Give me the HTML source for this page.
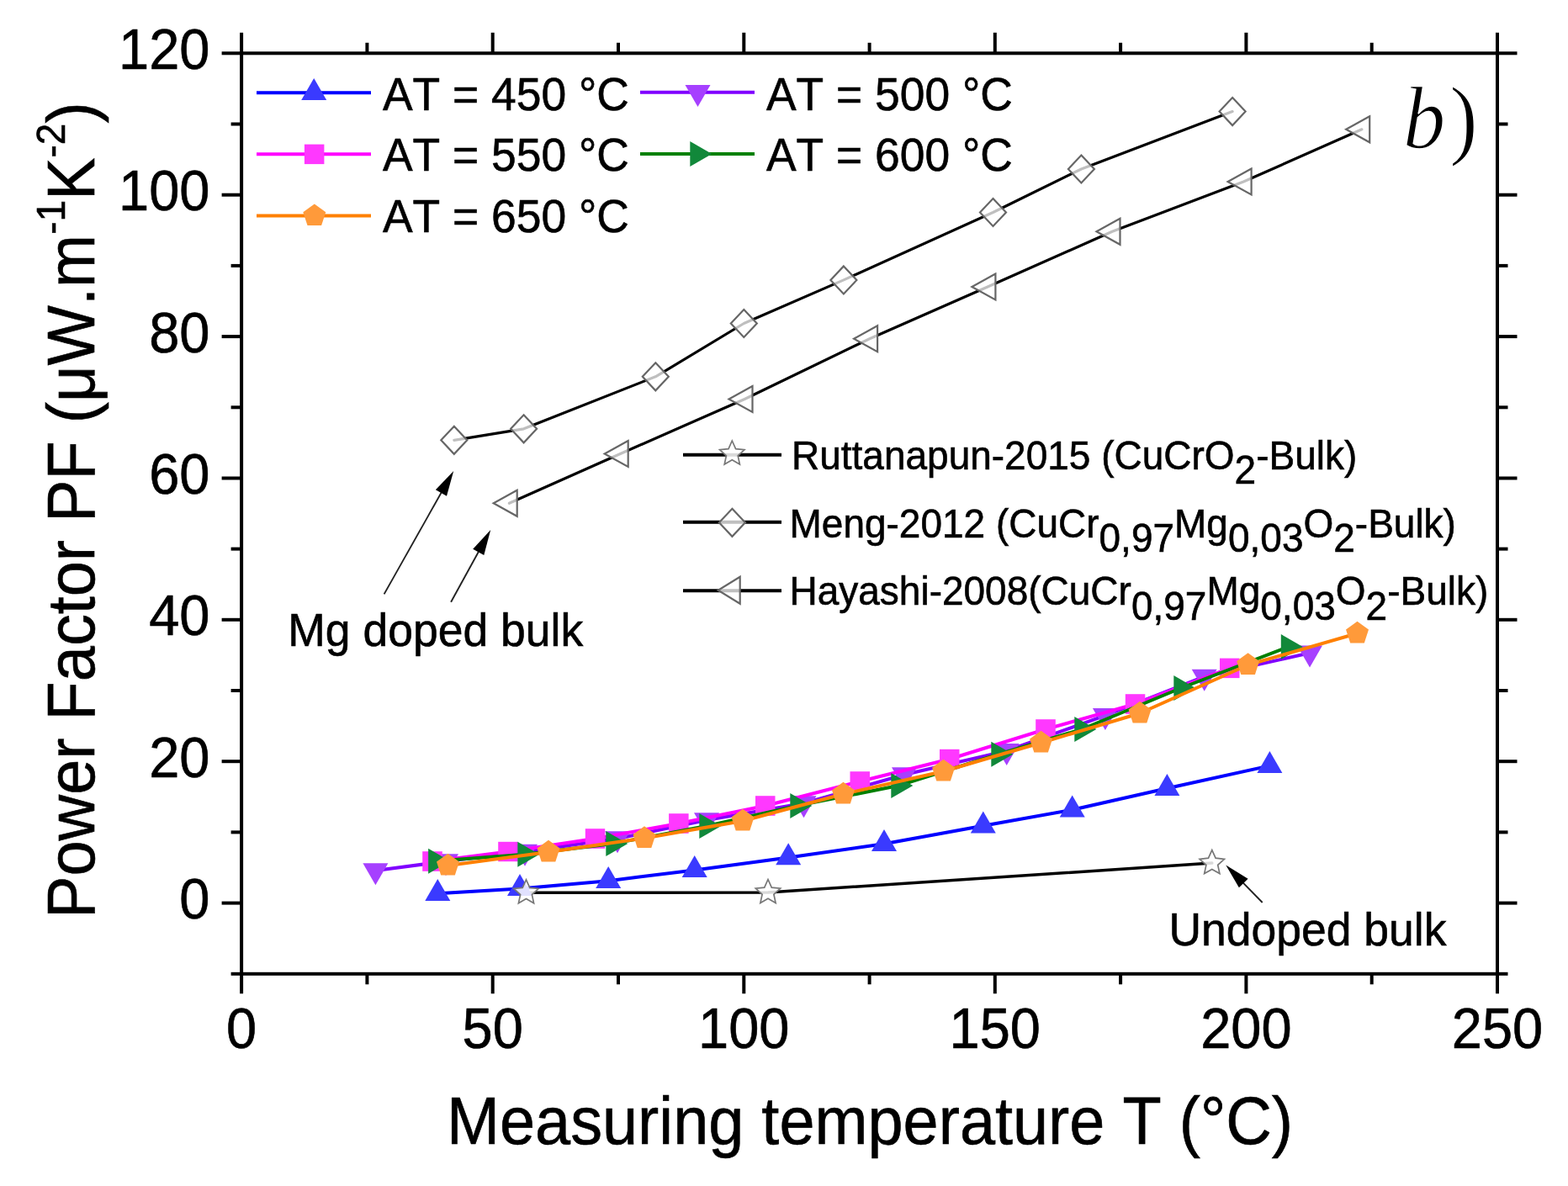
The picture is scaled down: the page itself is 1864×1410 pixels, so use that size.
<!DOCTYPE html><html><head><meta charset="utf-8"><title>Power Factor plot</title><style>html,body{margin:0;padding:0;background:#fff;}svg{display:block;}text{font-kerning:none;stroke:#000;stroke-width:0.6px;}</style></head><body>
<svg width="1864" height="1410" viewBox="0 0 1864 1410">
<rect width="1864" height="1410" fill="#fff"/>
<polyline points="625.5,1061.3 913,1061 1440.8,1026.1" fill="none" stroke="#000" stroke-width="3.5" stroke-linejoin="round" stroke-linecap="round"/>
<polyline points="539.8,523.3 622.6,509.8 779.3,447.8 884.3,384.5 1002.9,332.9 1180.5,252.5 1285.4,201 1465.1,132.6" fill="none" stroke="#000" stroke-width="3.2" stroke-linejoin="round" stroke-linecap="round"/>
<polyline points="605.4,598.3 737.4,539.5 885.2,474.5 1033.8,402.7 1174.1,341 1322.2,275.3 1478.3,216 1618.9,153.8" fill="none" stroke="#000" stroke-width="3.2" stroke-linejoin="round" stroke-linecap="round"/>
<polygon points="539.8,506.8 555.3,523.3 539.8,539.8 524.3,523.3" fill="#fff" stroke="#666" stroke-width="2.2" fill-opacity="0.75"/>
<polygon points="622.6,493.3 638.1,509.8 622.6,526.3 607.1,509.8" fill="#fff" stroke="#666" stroke-width="2.2" fill-opacity="0.75"/>
<polygon points="779.3,431.3 794.8,447.8 779.3,464.3 763.8,447.8" fill="#fff" stroke="#666" stroke-width="2.2" fill-opacity="0.75"/>
<polygon points="884.3,368 899.8,384.5 884.3,401 868.8,384.5" fill="#fff" stroke="#666" stroke-width="2.2" fill-opacity="0.75"/>
<polygon points="1002.9,316.4 1018.4,332.9 1002.9,349.4 987.4,332.9" fill="#fff" stroke="#666" stroke-width="2.2" fill-opacity="0.75"/>
<polygon points="1180.5,236 1196,252.5 1180.5,269 1165,252.5" fill="#fff" stroke="#666" stroke-width="2.2" fill-opacity="0.75"/>
<polygon points="1285.4,184.5 1300.9,201 1285.4,217.5 1269.9,201" fill="#fff" stroke="#666" stroke-width="2.2" fill-opacity="0.75"/>
<polygon points="1465.1,116.1 1480.6,132.6 1465.1,149.1 1449.6,132.6" fill="#fff" stroke="#666" stroke-width="2.2" fill-opacity="0.75"/>
<polygon points="614.7,582.8 586.7,598.3 614.7,613.8" fill="#fff" stroke="#666" stroke-width="2.2" fill-opacity="0.75"/>
<polygon points="746.7,524 718.7,539.5 746.7,555" fill="#fff" stroke="#666" stroke-width="2.2" fill-opacity="0.75"/>
<polygon points="894.5,459 866.5,474.5 894.5,490" fill="#fff" stroke="#666" stroke-width="2.2" fill-opacity="0.75"/>
<polygon points="1043.1,387.2 1015.1,402.7 1043.1,418.2" fill="#fff" stroke="#666" stroke-width="2.2" fill-opacity="0.75"/>
<polygon points="1183.4,325.5 1155.4,341 1183.4,356.5" fill="#fff" stroke="#666" stroke-width="2.2" fill-opacity="0.75"/>
<polygon points="1331.5,259.8 1303.5,275.3 1331.5,290.8" fill="#fff" stroke="#666" stroke-width="2.2" fill-opacity="0.75"/>
<polygon points="1487.6,200.5 1459.6,216 1487.6,231.5" fill="#fff" stroke="#666" stroke-width="2.2" fill-opacity="0.75"/>
<polygon points="1628.2,138.3 1600.2,153.8 1628.2,169.3" fill="#fff" stroke="#666" stroke-width="2.2" fill-opacity="0.75"/>
<polyline points="446.4,1035 530,1024 624,1012.5 734,997 840,975 955.5,955 1075,921 1196.7,892.6 1313.9,850.6 1431.7,804.4 1557,776.3" fill="none" stroke="#8000ff" stroke-width="4" stroke-linejoin="round" stroke-linecap="round"/>
<polygon points="431.4,1026.3 461.4,1026.3 446.4,1052.3" fill="#a640ff" stroke="none" stroke-width="0" />
<polygon points="515,1015.3 545,1015.3 530,1041.3" fill="#a640ff" stroke="none" stroke-width="0" />
<polygon points="609,1003.8 639,1003.8 624,1029.8" fill="#a640ff" stroke="none" stroke-width="0" />
<polygon points="719,988.3 749,988.3 734,1014.3" fill="#a640ff" stroke="none" stroke-width="0" />
<polygon points="825,966.3 855,966.3 840,992.3" fill="#a640ff" stroke="none" stroke-width="0" />
<polygon points="940.5,946.3 970.5,946.3 955.5,972.3" fill="#a640ff" stroke="none" stroke-width="0" />
<polygon points="1060,912.3 1090,912.3 1075,938.3" fill="#a640ff" stroke="none" stroke-width="0" />
<polygon points="1181.7,883.9 1211.7,883.9 1196.7,909.9" fill="#a640ff" stroke="none" stroke-width="0" />
<polygon points="1298.9,841.9 1328.9,841.9 1313.9,867.9" fill="#a640ff" stroke="none" stroke-width="0" />
<polygon points="1416.7,795.7 1446.7,795.7 1431.7,821.7" fill="#a640ff" stroke="none" stroke-width="0" />
<polygon points="1542,767.6 1572,767.6 1557,793.6" fill="#a640ff" stroke="none" stroke-width="0" />
<polyline points="514,1024 604,1012.5 707.5,997 806.9,979 909.7,958 1022.2,929 1128.7,902.5 1243,867 1349.6,837 1461.8,794.4" fill="none" stroke="#ff00ff" stroke-width="4" stroke-linejoin="round" stroke-linecap="round"/>
<polygon points="502.2,1012.2 525.8,1012.2 525.8,1035.8 502.2,1035.8" fill="#ff38ff" stroke="none" stroke-width="0" />
<polygon points="592.2,1000.8 615.8,1000.8 615.8,1024.2 592.2,1024.2" fill="#ff38ff" stroke="none" stroke-width="0" />
<polygon points="695.8,985.2 719.2,985.2 719.2,1008.8 695.8,1008.8" fill="#ff38ff" stroke="none" stroke-width="0" />
<polygon points="795.1,967.2 818.6,967.2 818.6,990.8 795.1,990.8" fill="#ff38ff" stroke="none" stroke-width="0" />
<polygon points="898,946.2 921.5,946.2 921.5,969.8 898,969.8" fill="#ff38ff" stroke="none" stroke-width="0" />
<polygon points="1010.5,917.2 1034,917.2 1034,940.8 1010.5,940.8" fill="#ff38ff" stroke="none" stroke-width="0" />
<polygon points="1117,890.8 1140.5,890.8 1140.5,914.2 1117,914.2" fill="#ff38ff" stroke="none" stroke-width="0" />
<polygon points="1231.2,855.2 1254.8,855.2 1254.8,878.8 1231.2,878.8" fill="#ff38ff" stroke="none" stroke-width="0" />
<polygon points="1337.8,825.2 1361.3,825.2 1361.3,848.8 1337.8,848.8" fill="#ff38ff" stroke="none" stroke-width="0" />
<polygon points="1450,782.6 1473.5,782.6 1473.5,806.1 1450,806.1" fill="#ff38ff" stroke="none" stroke-width="0" />
<polyline points="517.8,1023.7 624,1015.7 729,1002.9 840,982 948,957.9 1068,934 1187,896.7 1286,867 1404,818 1531.5,769" fill="none" stroke="#008000" stroke-width="4" stroke-linejoin="round" stroke-linecap="round"/>
<polygon points="509.1,1008.7 535.1,1023.7 509.1,1038.7" fill="#11883a" stroke="none" stroke-width="0" />
<polygon points="615.3,1000.7 641.3,1015.7 615.3,1030.7" fill="#11883a" stroke="none" stroke-width="0" />
<polygon points="720.3,987.9 746.3,1002.9 720.3,1017.9" fill="#11883a" stroke="none" stroke-width="0" />
<polygon points="831.3,967 857.3,982 831.3,997" fill="#11883a" stroke="none" stroke-width="0" />
<polygon points="939.3,942.9 965.3,957.9 939.3,972.9" fill="#11883a" stroke="none" stroke-width="0" />
<polygon points="1059.3,919 1085.3,934 1059.3,949" fill="#11883a" stroke="none" stroke-width="0" />
<polygon points="1178.3,881.7 1204.3,896.7 1178.3,911.7" fill="#11883a" stroke="none" stroke-width="0" />
<polygon points="1277.3,852 1303.3,867 1277.3,882" fill="#11883a" stroke="none" stroke-width="0" />
<polygon points="1395.3,803 1421.3,818 1395.3,833" fill="#11883a" stroke="none" stroke-width="0" />
<polygon points="1522.8,754 1548.8,769 1522.8,784" fill="#11883a" stroke="none" stroke-width="0" />
<polyline points="532.5,1029 652,1013 766,996.5 883,976 1002.5,944 1121.6,917 1237.6,883 1355,848 1483.6,790.5 1613.5,753" fill="none" stroke="#ff8000" stroke-width="4" stroke-linejoin="round" stroke-linecap="round"/>
<polygon points="532.5,1014.8 546,1024.6 540.8,1040.5 524.2,1040.5 519,1024.6" fill="#ff9a3a" stroke="none" stroke-width="0" />
<polygon points="652,998.8 665.5,1008.6 660.3,1024.5 643.7,1024.5 638.5,1008.6" fill="#ff9a3a" stroke="none" stroke-width="0" />
<polygon points="766,982.3 779.5,992.1 774.3,1008 757.7,1008 752.5,992.1" fill="#ff9a3a" stroke="none" stroke-width="0" />
<polygon points="883,961.8 896.5,971.6 891.3,987.5 874.7,987.5 869.5,971.6" fill="#ff9a3a" stroke="none" stroke-width="0" />
<polygon points="1002.5,929.8 1016,939.6 1010.8,955.5 994.2,955.5 989,939.6" fill="#ff9a3a" stroke="none" stroke-width="0" />
<polygon points="1121.6,902.8 1135.1,912.6 1129.9,928.5 1113.3,928.5 1108.1,912.6" fill="#ff9a3a" stroke="none" stroke-width="0" />
<polygon points="1237.6,868.8 1251.1,878.6 1245.9,894.5 1229.3,894.5 1224.1,878.6" fill="#ff9a3a" stroke="none" stroke-width="0" />
<polygon points="1355,833.8 1368.5,843.6 1363.3,859.5 1346.7,859.5 1341.5,843.6" fill="#ff9a3a" stroke="none" stroke-width="0" />
<polygon points="1483.6,776.3 1497.1,786.1 1491.9,802 1475.3,802 1470.1,786.1" fill="#ff9a3a" stroke="none" stroke-width="0" />
<polygon points="1613.5,738.8 1627,748.6 1621.8,764.5 1605.2,764.5 1600,748.6" fill="#ff9a3a" stroke="none" stroke-width="0" />
<polyline points="520.3,1062.2 618,1056.4 723.2,1047.2 825.7,1034.4 937.2,1019.5 1051,1003.3 1168.8,981.7 1274.7,962.7 1387.4,937.2 1509.4,910.4" fill="none" stroke="#0000ff" stroke-width="4" stroke-linejoin="round" stroke-linecap="round"/>
<polygon points="520.3,1044.9 535.3,1070.9 505.3,1070.9" fill="#3a3aff" stroke="none" stroke-width="0" />
<polygon points="618,1039.1 633,1065.1 603,1065.1" fill="#3a3aff" stroke="none" stroke-width="0" />
<polygon points="723.2,1029.9 738.2,1055.9 708.2,1055.9" fill="#3a3aff" stroke="none" stroke-width="0" />
<polygon points="825.7,1017.1 840.7,1043.1 810.7,1043.1" fill="#3a3aff" stroke="none" stroke-width="0" />
<polygon points="937.2,1002.2 952.2,1028.2 922.2,1028.2" fill="#3a3aff" stroke="none" stroke-width="0" />
<polygon points="1051,986 1066,1012 1036,1012" fill="#3a3aff" stroke="none" stroke-width="0" />
<polygon points="1168.8,964.4 1183.8,990.4 1153.8,990.4" fill="#3a3aff" stroke="none" stroke-width="0" />
<polygon points="1274.7,945.4 1289.7,971.4 1259.7,971.4" fill="#3a3aff" stroke="none" stroke-width="0" />
<polygon points="1387.4,919.9 1402.4,945.9 1372.4,945.9" fill="#3a3aff" stroke="none" stroke-width="0" />
<polygon points="1509.4,893.1 1524.4,919.1 1494.4,919.1" fill="#3a3aff" stroke="none" stroke-width="0" />
<polygon points="625.5,1045.8 629.8,1055.4 640.2,1056.5 632.4,1063.6 634.6,1073.8 625.5,1068.6 616.4,1073.8 618.6,1063.6 610.8,1056.5 621.2,1055.4" fill="#fff" stroke="#777" stroke-width="1.7" fill-opacity="0.85"/>
<polygon points="913,1045.5 917.3,1055.1 927.7,1056.2 919.9,1063.3 922.1,1073.5 913,1068.3 903.9,1073.5 906.1,1063.3 898.3,1056.2 908.7,1055.1" fill="#fff" stroke="#777" stroke-width="1.7" fill-opacity="0.85"/>
<polygon points="1440.8,1010.6 1445.1,1020.2 1455.5,1021.3 1447.7,1028.4 1449.9,1038.6 1440.8,1033.4 1431.7,1038.6 1433.9,1028.4 1426.1,1021.3 1436.5,1020.2" fill="#fff" stroke="#777" stroke-width="1.7" fill-opacity="0.85"/>
<g stroke="#000" stroke-width="4" stroke-linecap="butt">
<line x1="287.1" y1="1157.8" x2="287.1" y2="1181.3"/>
<line x1="287.1" y1="63.3" x2="287.1" y2="38.8"/>
<line x1="585.7" y1="1157.8" x2="585.7" y2="1181.3"/>
<line x1="585.7" y1="63.3" x2="585.7" y2="38.8"/>
<line x1="884.3" y1="1157.8" x2="884.3" y2="1181.3"/>
<line x1="884.3" y1="63.3" x2="884.3" y2="38.8"/>
<line x1="1182.8" y1="1157.8" x2="1182.8" y2="1181.3"/>
<line x1="1182.8" y1="63.3" x2="1182.8" y2="38.8"/>
<line x1="1481.4" y1="1157.8" x2="1481.4" y2="1181.3"/>
<line x1="1481.4" y1="63.3" x2="1481.4" y2="38.8"/>
<line x1="1780" y1="1157.8" x2="1780" y2="1181.3"/>
<line x1="1780" y1="63.3" x2="1780" y2="38.8"/>
<line x1="436.4" y1="1157.8" x2="436.4" y2="1170.3"/>
<line x1="436.4" y1="63.3" x2="436.4" y2="50.8"/>
<line x1="735" y1="1157.8" x2="735" y2="1170.3"/>
<line x1="735" y1="63.3" x2="735" y2="50.8"/>
<line x1="1033.6" y1="1157.8" x2="1033.6" y2="1170.3"/>
<line x1="1033.6" y1="63.3" x2="1033.6" y2="50.8"/>
<line x1="1332.1" y1="1157.8" x2="1332.1" y2="1170.3"/>
<line x1="1332.1" y1="63.3" x2="1332.1" y2="50.8"/>
<line x1="1630.7" y1="1157.8" x2="1630.7" y2="1170.3"/>
<line x1="1630.7" y1="63.3" x2="1630.7" y2="50.8"/>
<line x1="287.1" y1="1073.6" x2="263.6" y2="1073.6"/>
<line x1="1780" y1="1073.6" x2="1803.5" y2="1073.6"/>
<line x1="287.1" y1="905.2" x2="263.6" y2="905.2"/>
<line x1="1780" y1="905.2" x2="1803.5" y2="905.2"/>
<line x1="287.1" y1="736.8" x2="263.6" y2="736.8"/>
<line x1="1780" y1="736.8" x2="1803.5" y2="736.8"/>
<line x1="287.1" y1="568.5" x2="263.6" y2="568.5"/>
<line x1="1780" y1="568.5" x2="1803.5" y2="568.5"/>
<line x1="287.1" y1="400.1" x2="263.6" y2="400.1"/>
<line x1="1780" y1="400.1" x2="1803.5" y2="400.1"/>
<line x1="287.1" y1="231.7" x2="263.6" y2="231.7"/>
<line x1="1780" y1="231.7" x2="1803.5" y2="231.7"/>
<line x1="287.1" y1="63.3" x2="263.6" y2="63.3"/>
<line x1="1780" y1="63.3" x2="1803.5" y2="63.3"/>
<line x1="287.1" y1="1157.8" x2="274.6" y2="1157.8"/>
<line x1="1780" y1="1157.8" x2="1792.5" y2="1157.8"/>
<line x1="287.1" y1="989.4" x2="274.6" y2="989.4"/>
<line x1="1780" y1="989.4" x2="1792.5" y2="989.4"/>
<line x1="287.1" y1="821" x2="274.6" y2="821"/>
<line x1="1780" y1="821" x2="1792.5" y2="821"/>
<line x1="287.1" y1="652.6" x2="274.6" y2="652.6"/>
<line x1="1780" y1="652.6" x2="1792.5" y2="652.6"/>
<line x1="287.1" y1="484.3" x2="274.6" y2="484.3"/>
<line x1="1780" y1="484.3" x2="1792.5" y2="484.3"/>
<line x1="287.1" y1="315.9" x2="274.6" y2="315.9"/>
<line x1="1780" y1="315.9" x2="1792.5" y2="315.9"/>
<line x1="287.1" y1="147.5" x2="274.6" y2="147.5"/>
<line x1="1780" y1="147.5" x2="1792.5" y2="147.5"/>
</g>
<rect x="287.1" y="63.3" width="1492.9" height="1094.5" fill="none" stroke="#000" stroke-width="4"/>
<g font-family="'Liberation Sans', Arial, sans-serif" font-size="65" fill="#000">
<text transform="translate(287.1,1245.5) scale(1,1.045)" text-anchor="middle" >0</text>
<text transform="translate(585.7,1245.5) scale(1,1.045)" text-anchor="middle" >50</text>
<text transform="translate(884.3,1245.5) scale(1,1.045)" text-anchor="middle" >100</text>
<text transform="translate(1182.8,1245.5) scale(1,1.045)" text-anchor="middle" >150</text>
<text transform="translate(1481.4,1245.5) scale(1,1.045)" text-anchor="middle" >200</text>
<text transform="translate(1780,1245.5) scale(1,1.045)" text-anchor="middle" >250</text>
<text transform="translate(249.5,1092.1) scale(1,1.045)" text-anchor="end" >0</text>
<text transform="translate(249.5,923.7) scale(1,1.045)" text-anchor="end" >20</text>
<text transform="translate(249.5,755.3) scale(1,1.045)" text-anchor="end" >40</text>
<text transform="translate(249.5,587) scale(1,1.045)" text-anchor="end" >60</text>
<text transform="translate(249.5,418.6) scale(1,1.045)" text-anchor="end" >80</text>
<text transform="translate(249.5,250.2) scale(1,1.045)" text-anchor="end" >100</text>
<text transform="translate(249.5,81.8) scale(1,1.045)" text-anchor="end" >120</text>
</g>
<text transform="translate(1034,1360) scale(1,1.045)" text-anchor="middle" font-family="'Liberation Sans', Arial, sans-serif" font-size="75.7">Measuring temperature T (°C)</text>
<text font-family="'Liberation Sans', Arial, sans-serif" font-size="75.7" transform="translate(112.3,1092) rotate(-90) scale(1,1.045)" x="0" y="0">Power Factor PF (μW.m<tspan font-size="46" dy="-34">-1</tspan><tspan dy="34">K</tspan><tspan font-size="46" dy="-34">-2</tspan><tspan dy="34">)</tspan></text>
<line x1="305" y1="110.2" x2="441" y2="110.2" stroke="#0000ff" stroke-width="4"/>
<polygon points="373.2,92.9 388.2,118.9 358.2,118.9" fill="#3a3aff" stroke="none" stroke-width="0" />
<line x1="305" y1="183.3" x2="441" y2="183.3" stroke="#ff00ff" stroke-width="4"/>
<polygon points="361.9,171.6 385.4,171.6 385.4,195.1 361.9,195.1" fill="#ff38ff" stroke="none" stroke-width="0" />
<line x1="305" y1="256.6" x2="441" y2="256.6" stroke="#ff8000" stroke-width="4"/>
<polygon points="373.8,242.4 387.3,252.2 382.1,268.1 365.5,268.1 360.3,252.2" fill="#ff9a3a" stroke="none" stroke-width="0" />
<line x1="761" y1="109.8" x2="897" y2="109.8" stroke="#8000ff" stroke-width="4"/>
<polygon points="814.5,101.1 844.5,101.1 829.5,127.1" fill="#a640ff" stroke="none" stroke-width="0" />
<line x1="761" y1="183" x2="897" y2="183" stroke="#008000" stroke-width="4"/>
<polygon points="820.3,168 846.3,183 820.3,198" fill="#11883a" stroke="none" stroke-width="0" />
<g font-family="'Liberation Sans', Arial, sans-serif" font-size="53.4" fill="#000">
<text transform="translate(455,130.5) scale(1,1.045)" >AT = 450 °C</text>
<text transform="translate(455,203) scale(1,1.045)" >AT = 550 °C</text>
<text transform="translate(455,275.5) scale(1,1.045)" >AT = 650 °C</text>
<text transform="translate(911,130.5) scale(1,1.045)" >AT = 500 °C</text>
<text transform="translate(911,203) scale(1,1.045)" >AT = 600 °C</text>
</g>
<line x1="812" y1="540.8" x2="929" y2="540.8" stroke="#000" stroke-width="4"/>
<polygon points="870.3,524 874.6,533.6 885,534.7 877.2,541.8 879.4,552 870.3,546.8 861.2,552 863.4,541.8 855.6,534.7 866,533.6" fill="#fff" stroke="#777" stroke-width="1.7" fill-opacity="0.85"/>
<line x1="812" y1="620.8" x2="929" y2="620.8" stroke="#000" stroke-width="4"/>
<polygon points="870.4,604.8 885.9,621.3 870.4,637.8 854.9,621.3" fill="#fff" stroke="#666" stroke-width="2.2" fill-opacity="0.75"/>
<line x1="812" y1="702.3" x2="929" y2="702.3" stroke="#000" stroke-width="4"/>
<polygon points="879.7,685.8 853.7,701.8 879.7,717.8" fill="#fff" stroke="#666" stroke-width="2.2" fill-opacity="0.75"/>
<g font-family="'Liberation Sans', Arial, sans-serif" font-size="46" fill="#000">
<text transform="translate(941,557.7) scale(1,1.045)" >Ruttanapun-2015 (CuCrO<tspan dy="16.8">2</tspan><tspan dy="-16.8">-Bulk)</tspan></text>
<text transform="translate(938.5,638.5) scale(1,1.045)" >Meng-2012 (CuCr<tspan dy="16.8">0,97</tspan><tspan dy="-16.8">Mg</tspan><tspan dy="16.8">0,03</tspan><tspan dy="-16.8">O</tspan><tspan dy="16.8">2</tspan><tspan dy="-16.8">-Bulk)</tspan></text>
<text transform="translate(938.5,719.2) scale(1,1.045)" >Hayashi-2008(CuCr<tspan dy="16.8">0,97</tspan><tspan dy="-16.8">Mg</tspan><tspan dy="16.8">0,03</tspan><tspan dy="-16.8">O</tspan><tspan dy="16.8">2</tspan><tspan dy="-16.8">-Bulk)</tspan></text>
</g>
<g font-family="'Liberation Sans', Arial, sans-serif" font-size="53.5" fill="#000">
<text transform="translate(342.3,768.1) scale(1,1.045)" >Mg doped bulk</text>
<text transform="translate(1389.4,1123.6) scale(1,1.045)" >Undoped bulk</text>
</g>
<line x1="456.6" y1="706.4" x2="525.4" y2="584.3" stroke="#222" stroke-width="1.9"/>
<polygon points="539.2,559.9 531,589.7 517.9,582.3" fill="#000" stroke="none" stroke-width="0" />
<line x1="536.1" y1="715.8" x2="569.7" y2="654.5" stroke="#222" stroke-width="1.9"/>
<polygon points="583.2,630 575.3,659.9 562.2,652.7" fill="#000" stroke="none" stroke-width="0" />
<line x1="1500.7" y1="1073" x2="1476.9" y2="1048.6" stroke="#222" stroke-width="1.9"/>
<polygon points="1457.3,1028.6 1483.6,1044.8 1472.9,1055.3" fill="#000" stroke="none" stroke-width="0" />
<text transform="translate(1668,175.8) scale(1,1.045)" font-family="'Liberation Serif', 'Times New Roman', serif" font-size="100.5" style="stroke:#fff;stroke-width:1.3px"><tspan font-style="italic">b</tspan><tspan dx="5">)</tspan></text>
</svg></body></html>
